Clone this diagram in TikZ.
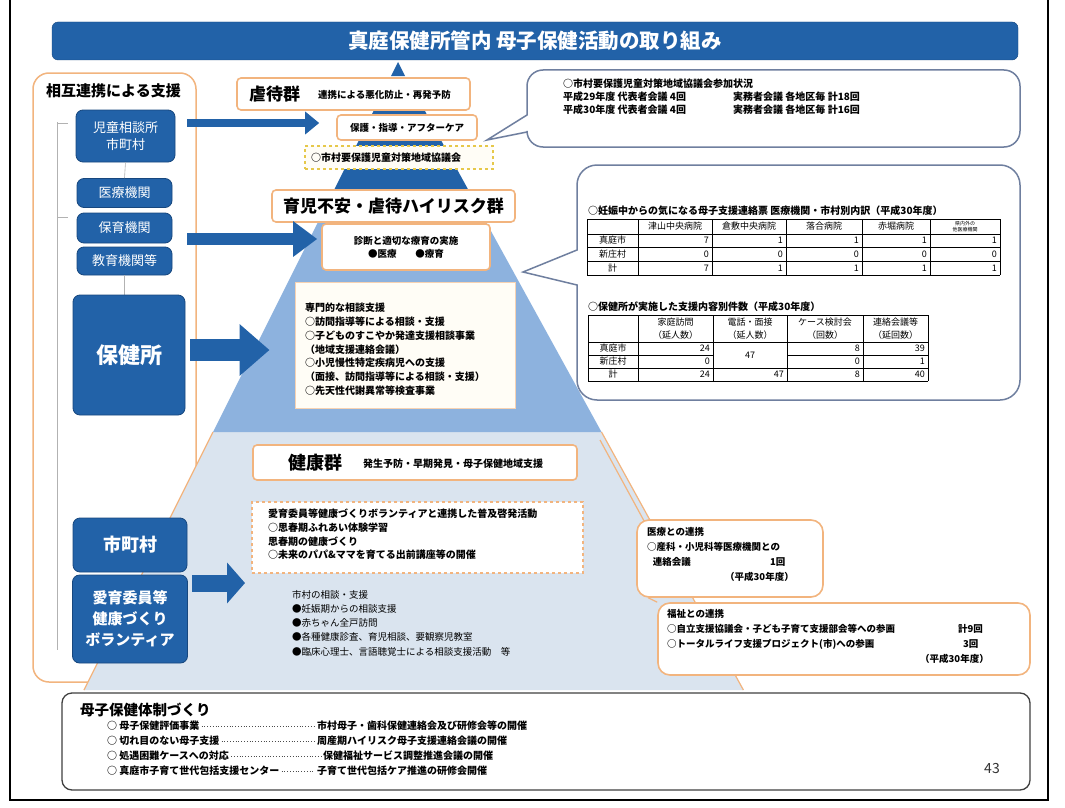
\documentclass[tikz,border=0pt]{standalone}
\usepackage{fontspec}
\setmainfont{Noto Sans CJK JP}
\usetikzlibrary{arrows.meta,calc}
\definecolor{dkblue}{HTML}{2262A8}
\definecolor{dkblueB}{HTML}{17477E}
\definecolor{orng}{HTML}{F2B47E}
\definecolor{midblue}{HTML}{8DB2DE}
\definecolor{ltblue}{HTML}{DAE4EF}
\definecolor{callb}{HTML}{6F7F9F}
\definecolor{ylw}{HTML}{E6C84A}
\definecolor{cream}{HTML}{FFFDF6}
\newcommand{\fsz}[2]{\fontsize{#1}{#2}\selectfont}
\begin{document}
\begin{tikzpicture}[x=1pt,y=-1pt,
  dbox/.style={draw=dkblueB, line width=0.8pt, fill=dkblue, rounded corners=7pt, text=white, align=center, inner sep=0pt},
  obox/.style={draw=orng, line width=1.6pt, fill=white, rounded corners=4pt, inner sep=0pt, align=center},
  callout/.style={draw=callb, line width=1.5pt, fill=white},
  txt/.style={anchor=west, inner sep=0pt, align=left, text=black},
  cell/.style={inner sep=0pt, font=\fsz{9}{10}, align=center},
  grid/.style={draw=black, line width=0.8pt},
  barrow/.style n args={3}{draw=dkblue, line width=#1, -{Triangle[length=#3,width=#2]}},
]
\useasboundingbox (0,0) rectangle (1065,808);
\fill[white] (0,0) rectangle (1065,808);
% page frame
\draw[black, line width=1.2pt] (10,0) -- (10,800) -- (1048,800) -- (1048,0);

% title
\node[draw=dkblueB, fill=dkblue, rounded corners=6pt, minimum width=966, minimum height=38, inner sep=0pt,
      text=white, font=\bfseries\fsz{20.5}{23}] (title) at (535,41) {真庭保健所管内 母子保健活動の取り組み};

% left frame
\draw[orng, line width=1.5pt, rounded corners=16pt, fill=white] (33,73) rectangle (196,682);
\node[txt, font=\bfseries\fsz{15}{18}] (lefttitle) at (46,91) {相互連携による支援};

% pyramid
\fill[ltblue] (213,432) -- (601.5,432) -- (743.4,690) -- (84,690) -- cycle;
\draw[orng, line width=1.2pt] (213,432) -- (84,690);
\draw[orng, line width=1.2pt] (601.5,432) -- (743.4,690);
\fill[midblue] (333,192) -- (469.5,192) -- (601.5,432) -- (213,432) -- cycle;
\fill[dkblue] (375,108) -- (423.3,108) -- (469.5,192) -- (333,192) -- cycle;
\fill[dkblue] (398,62) -- (405,76) -- (391,76) -- cycle;

% left column
\draw[gray!60, line width=0.6pt] (57,122) -- (57,650);
\draw[gray!60, line width=0.6pt] (57,123) -- (68,123);
\draw[gray!60, line width=0.6pt] (57,217) -- (68,217);
\node[dbox, minimum width=99, minimum height=52, font=\fsz{13}{17}] (jidou) at (125.5,136) {児童相談所\\市町村};
\node[dbox, minimum width=95, minimum height=29, font=\fsz{13}{16}] (iryou) at (124.5,193) {医療機関};
\node[dbox, minimum width=95, minimum height=30, font=\fsz{13}{16}] (hoiku) at (124.5,228) {保育機関};
\node[dbox, minimum width=95, minimum height=28, font=\fsz{13}{16}] (kyoiku) at (124.5,261) {教育機関等};
\draw[gray!60, line width=0.6pt] (jidou.south) -- (iryou.north);
\draw[gray!60, line width=0.6pt] (kyoiku.south) -- (kyoiku.south |- 0,295);
\node[dbox, minimum width=112, minimum height=120, font=\bfseries\fsz{22}{26}] (hokenjo) at (129,355) {保健所};
\node[dbox, minimum width=114, minimum height=54, font=\bfseries\fsz{18}{22}] (shi) at (130,545) {市町村};
\node[dbox, minimum width=115, minimum height=88, font=\bfseries\fsz{15}{21}] (aiiku) at (130,619) {愛育委員等\\健康づくり\\ボランティア};

% top tier boxes
\node[obox, minimum width=233, minimum height=32] (gyaku) at (353.5,94) {};
\node[txt, font=\bfseries\fsz{17}{20}] (gyakuT) at (249,94) {虐待群};
\node[txt, font=\bfseries\fsz{9.5}{12}] (gyakuS) at (318,95) {連携による悪化防止・再発予防};
\node[obox, minimum width=140, minimum height=25, font=\bfseries\fsz{9.5}{12}] (hogo) at (407,127.5) {保護・指導・アフターケア};
\node[draw=ylw, dashed, line width=1.2pt, fill=cream, minimum width=188, minimum height=23, inner sep=0pt] (kyogi) at (399,157.5) {};
\node[txt, font=\bfseries\fsz{10}{12}] (kyogiT) at (311,157.5) {○市村要保護児童対策地域協議会};

% top right callout
\draw[callout] (527,115) [rounded corners=16pt] -- (527,70) -- (1020,70) -- (1020,147) -- (527,147) [sharp corners] -- (527,132) -- (487,140) -- cycle;
\node[txt, anchor=north west, font=\bfseries\fsz{10}{13}] (crT) at (563,79)
  {○市村要保護児童対策地域協議会参加状況\\
   \makebox[170pt][l]{平成29年度\ 代表者会議\ 4回}実務者会議\ 各地区毎\ 計18回\\
   \makebox[170pt][l]{平成30年度\ 代表者会議\ 4回}実務者会議\ 各地区毎\ 計16回};

% middle tier
\node[obox, minimum width=243, minimum height=32, font=\bfseries\fsz{17}{20}] (ikuji) at (393.5,206) {育児不安・虐待ハイリスク群};
\node[obox, minimum width=168, minimum height=46, font=\bfseries\fsz{9.5}{13}] (shindan) at (406,247) {診断と適切な療育の実施\\●医療\quad\quad●療育};
\node[draw=orng!60, line width=1pt, fill=cream, minimum width=220, minimum height=126, inner sep=0pt] (senmon) at (405,345) {};
\node[txt, anchor=north west, font=\bfseries\fsz{10}{13.8}] (senmonT) at (305,303)
  {専門的な相談支援\\○訪問指導等による相談・支援\\○子どものすこやか発達支援相談事業\\（地域支援連絡会議）\\○小児慢性特定疾病児への支援\\（面接、訪問指導等による相談・支援）\\○先天性代謝異常等検査事業};

% table callout
\draw[callout] (577,250) [rounded corners=20pt] -- (577,165) -- (1020,165) -- (1020,400) -- (577,400) [sharp corners] -- (577,285) -- (523,272) -- cycle;
\node[txt, font=\bfseries\fsz{10}{12}] (t1h) at (588,211) {○妊娠中からの気になる母子支援連絡票\ 医療機関・市村別内訳（平成30年度）};
\foreach \x in {587,638,712,786,862,930,1000} \draw[grid] (\x,219) -- (\x,275);
\foreach \y in {219,234,247,261,275} \draw[grid] (587,\y) -- (1000,\y);
\foreach \lab/\cx [count=\i] in {津山中央病院/675,倉敷中央病院/749,落合病院/824,赤堀病院/896}
  \node[cell] (t1c\i) at (\cx,226.5) {\lab};
\node[cell, font=\fsz{5}{6}] (t1c5) at (965,226.5) {県内外の\\他医療機関};
\foreach \lab/\cy [count=\i] in {真庭市/240.5,新庄村/254,計/268}
  \node[cell] (t1r\i) at (612.5,\cy) {\lab};
\foreach \v/\xr [count=\c] in {7/712,1/786,1/862,1/930,1/1000} \node[cell, anchor=east] (t1a\c) at (\xr-3,240.5) {\v};
\foreach \v/\xr [count=\c] in {0/712,0/786,0/862,0/930,0/1000} \node[cell, anchor=east] (t1b\c) at (\xr-3,254) {\v};
\foreach \v/\xr [count=\c] in {7/712,1/786,1/862,1/930,1/1000} \node[cell, anchor=east] (t1d\c) at (\xr-3,268) {\v};

\node[txt, font=\bfseries\fsz{10}{12}] (t2h) at (588,307) {○保健所が実施した支援内容別件数（平成30年度）};
\foreach \x in {588,638,713,787,863,928} \draw[grid] (\x,315) -- (\x,381);
\foreach \y in {315,342,368,381} \draw[grid] (588,\y) -- (928,\y);
\draw[grid] (588,355) -- (713,355);
\draw[grid] (787,355) -- (928,355);
\foreach \lab/\cx [count=\i] in {家庭訪問/675.5,電話・面接/750,ケース検討会/825,連絡会議等/895.5}
  \node[cell] (t2c\i) at (\cx,322.5) {\lab};
\foreach \lab/\cx [count=\i] in {（延人数）/675.5,（延人数）/750,（回数）/825,（延回数）/895.5}
  \node[cell] (t2p\i) at (\cx,335) {\lab};
\foreach \lab/\cy [count=\i] in {真庭市/348.5,新庄村/361.5,計/374.5}
  \node[cell] (t2r\i) at (613,\cy) {\lab};
\foreach \v/\xr [count=\c] in {24/713,8/863,39/928} \node[cell, anchor=east] (t2a\c) at (\xr-3,348.5) {\v};
\foreach \v/\xr [count=\c] in {0/713,0/863,1/928} \node[cell, anchor=east] (t2b\c) at (\xr-3,361.5) {\v};
\foreach \v/\xr [count=\c] in {24/713,47/787,8/863,40/928} \node[cell, anchor=east] (t2d\c) at (\xr-3,374.5) {\v};
\node[cell] (t2m) at (750,355) {47};

% bottom tier
\node[obox, minimum width=324, minimum height=35] (kenko) at (415,462.5) {};
\node[txt, font=\bfseries\fsz{18}{20}] (kenkoT) at (288,463) {健康群};
\node[txt, font=\bfseries\fsz{10}{12}] (kenkoS) at (363,464) {発生予防・早期発見・母子保健地域支援};
\node[draw=orng, dashed, line width=1.2pt, fill=white, minimum width=331, minimum height=71, inner sep=0pt] (fukyu) at (417.5,537.5) {};
\node[txt, anchor=north west, font=\bfseries\fsz{10}{13.7}] (fukyuT) at (268,509)
  {愛育委員等健康づくりボランティアと連携した普及啓発活動\\○思春期ふれあい体験学習\\思春期の健康づくり\\○未来のパパ\&ママを育てる出前講座等の開催};
\node[txt, anchor=north west, font=\fsz{9.5}{14.2}] (shison) at (292,590)
  {市村の相談・支援\\●妊娠期からの相談支援\\●赤ちゃん全戸訪問\\●各種健康診査、育児相談、要観察児教室\\●臨床心理士、言語聴覚士による相談支援活動\quad 等};

% right lower boxes
\node[draw=orng, line width=1.6pt, fill=white, rounded corners=12pt, minimum width=186, minimum height=77, inner sep=0pt] (iryoR) at (730,558.5) {};
\draw[orng, line width=1.2pt] (iryoR.north west) ++(8,2) -- (600,440);
\node[txt, anchor=north west, font=\bfseries\fsz{9.5}{15}] (iryoT) at (647,527)
  {医療との連携\\○産科・小児科等医療機関との\\\makebox[123pt][l]{\hspace*{0.6em}連絡会議}1回\\\hspace*{78pt}（平成30年度）};
\node[draw=orng, line width=1.6pt, fill=white, rounded corners=12pt, minimum width=372, minimum height=72, inner sep=0pt] (fukushi) at (844,639) {};
\node[txt, anchor=north west, font=\bfseries\fsz{9.5}{15}] (fukushiT) at (667,609)
  {福祉との連携\\\makebox[291pt][l]{○自立支援協議会・子ども子育て支援部会等への参画}計9回\\\makebox[296pt][l]{○トータルライフ支援プロジェクト(市)への参画}3回\\\hspace*{253pt}（平成30年度）};
\draw[orng, line width=1.2pt] (iryoR.south west) ++(12,0) -- (fukushi.north west);

% arrows
\coordinate (a1s) at (187,123);
\draw[barrow={8pt}{22pt}{14pt}, shorten >=17pt] (a1s) -- (hogo.west |- a1s);
\coordinate (a2s) at (187,239);
\draw[barrow={12pt}{34pt}{24pt}, shorten >=4pt] (a2s) -- (shindan.west |- a2s);
\coordinate (a3s) at (190,350);
\draw[barrow={22pt}{50pt}{30pt}, shorten >=25pt] (a3s) -- (senmon.west |- a3s);
\coordinate (a4s) at (192,583);
\coordinate (a4e) at (245,583);
\draw[barrow={17pt}{40pt}{18pt}] (a4s) -- (a4e);

% bottom box
\draw[black!75, line width=1.3pt, rounded corners=10pt] (62,693) rectangle (1030,790);
\node[txt, font=\bfseries\fsz{14.5}{16}] (taisei) at (80,710) {母子保健体制づくり};
\begin{scope}[every node/.style={txt, font=\bfseries\fsz{10}{12}}]
\node (b1l) at (107,726) {○ 母子保健評価事業};
\node (b1r) at (317,726) {市村母子・歯科保健連絡会及び研修会等の開催};
\node (b2l) at (107,741) {○ 切れ目のない母子支援};
\node (b2r) at (317,741) {周産期ハイリスク母子支援連絡会議の開催};
\node (b3l) at (107,756) {○ 処遇困難ケースへの対応};
\node (b3r) at (323,756) {保健福祉サービス調整推進会議の開催};
\node (b4l) at (107,771) {○ 真庭市子育て世代包括支援センター};
\node (b4r) at (317,771) {子育て世代包括ケア推進の研修会開催};
\end{scope}
\foreach \i in {1,2,3,4} \draw[black!70, dotted, line width=0.8pt, shorten <=2pt, shorten >=2pt] (b\i l.east) -- (b\i r.west);

\node[inner sep=0pt, font=\fsz{14}{16}, text=black!80] (pnum) at (992,768) {43};
\end{tikzpicture}
\end{document}
